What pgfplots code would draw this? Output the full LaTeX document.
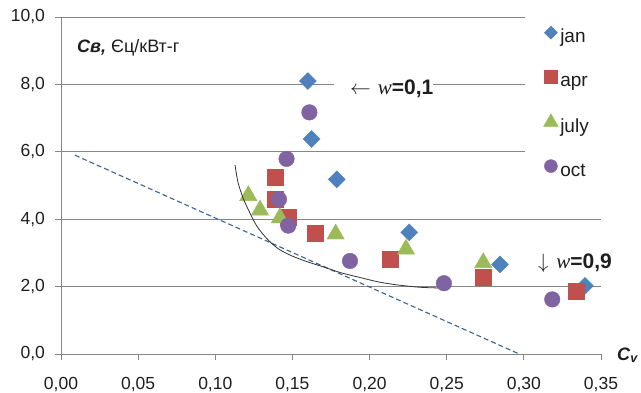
\documentclass[border=0pt]{standalone}
\usepackage{fontspec}
\setmainfont{Liberation Sans}
\newfontfamily\serifit{Liberation Serif}
\usepackage{pgfplots}
\pgfplotsset{compat=1.18}
\definecolor{cjan}{RGB}{79,129,189}
\definecolor{capr}{RGB}{192,80,77}
\definecolor{cjul}{RGB}{155,187,89}
\definecolor{coct}{RGB}{128,100,162}
\definecolor{cdash}{RGB}{60,98,148}
\definecolor{cgrid}{RGB}{134,134,134}
\definecolor{ctext}{RGB}{30,30,30}
\begin{document}
\begin{tikzpicture}[font=\fontsize{17.5}{21}\selectfont]
\begin{axis}[
  scale only axis, width=540pt, height=337pt,
  xmin=0, xmax=0.35, ymin=0, ymax=10,
  axis lines=left, axis line style={-, draw=cgrid, line width=0.8pt},
  xtick={0,0.05,0.1,0.15,0.2,0.25,0.3,0.35}, ytick={0,2,4,6,8,10},
  tick align=outside, major tick length=5.5pt, tick style={cgrid, line width=0.8pt},
  ymajorgrids, grid style={cgrid, line width=0.8pt},
  /pgf/number format/assume math mode=true,
  xticklabel style={/pgf/number format/.cd, fixed, fixed zerofill, precision=2, use comma, /tikz/.cd, yshift=-14pt, text=ctext},
  yticklabel style={/pgf/number format/.cd, fixed, fixed zerofill, precision=1, use comma, /tikz/.cd, xshift=-7pt, text=ctext},
  clip mode=individual,
  legend style={at={(rel axis cs:0.859,1.0119)}, anchor=north west, fill=white, draw=none,
    font=\fontsize{19}{22}\selectfont, text=ctext, row sep=21.3pt, inner xsep=18.5pt, inner ysep=13pt,
    nodes={inner sep=2pt, text height=14pt, text depth=4pt}},
  legend cell align=left,
  legend image code/.code={\draw[#1, only marks] plot coordinates {(0pt,5pt)};},
]
\addplot[only marks, mark=square*, mark options={rotate=45, fill=cjan, draw=cjan}, mark size=6pt,
  legend image post style={mark size=4.6pt}]
  coordinates {(0.160,8.10) (0.1625,6.38) (0.1787,5.18) (0.2257,3.61) (0.2845,2.66) (0.3396,2.02)};
\addlegendentry{jan}
\addplot[only marks, mark=square*, mark options={fill=capr, draw=capr}, mark size=8pt,
  legend image post style={mark size=6.5pt}]
  coordinates {(0.1387,5.26) (0.1387,4.59) (0.1473,4.07) (0.165,3.58) (0.2132,2.81) (0.2737,2.28) (0.3342,1.85)};
\addlegendentry{apr}
\addplot[only marks, mark=triangle*, mark options={fill=cjul, draw=cjul}, mark size=10pt,
  legend image post style={mark size=8.5pt}]
  coordinates {(0.1214,4.70) (0.129,4.27) (0.1419,4.04) (0.178,3.56) (0.2236,3.11) (0.2737,2.71)};
\addlegendentry{july}
\addplot[only marks, mark=*, mark options={fill=coct, draw=coct}, mark size=7.8pt,
  legend image post style={mark size=6.5pt}]
  coordinates {(0.161,7.17) (0.1462,5.79) (0.1413,4.59) (0.1473,3.81) (0.1873,2.76) (0.2482,2.10) (0.3184,1.62)};
\addlegendentry{oct}
\addplot[forget plot, cdash, line width=1.1pt, dash pattern=on 5pt off 3pt]
  coordinates {(0.009,5.90) (0.297,0.0)};
\addplot[forget plot, black!80, line width=0.8pt, smooth, tension=0.5]
  coordinates {(0.1128,5.61) (0.1147,5.10) (0.1180,4.63) (0.1225,4.18) (0.1270,3.79) (0.1335,3.42)
   (0.1406,3.13) (0.1497,2.91) (0.1601,2.73) (0.1711,2.57) (0.1808,2.42) (0.1938,2.27) (0.2067,2.13)
   (0.2197,2.04) (0.2327,1.98) (0.2443,1.96)};
\node[anchor=west, fill=white, inner xsep=0pt, inner ysep=3pt, font=\fontsize{21}{24}\selectfont, text=ctext]
  at (axis cs:0.1769,7.86) {\hspace{16pt}$\leftarrow$\hspace{7pt}{\serifit\itshape w}\textbf{=0,1}\hspace{27pt}};
\node[anchor=west, inner sep=0pt, font=\fontsize{21}{24}\selectfont, text=ctext]
  at (axis cs:0.3091,2.70) {$\downarrow$\hspace{8pt}{\serifit\itshape w}\textbf{=0,9}};
\node[anchor=west, inner sep=0pt, font=\fontsize{18}{22}\selectfont, text=ctext]
  at (axis cs:0.0104,9.08) {\textbf{\textit{Св,}} Єц/кВт-г};
\node[anchor=base west, inner sep=0pt, font=\fontsize{18}{22}\selectfont, text=ctext]
  at (axis cs:0.35,0) [xshift=16pt, yshift=-6pt] {\textbf{\textit{C}\textsubscript{\textit{v}}}};
\coordinate (O) at (rel axis cs:0,0);
\end{axis}
\pgfresetboundingbox
\path ([xshift=-61pt,yshift=-38pt]O) rectangle ([xshift=580pt,yshift=354pt]O);
\end{tikzpicture}
\end{document}
